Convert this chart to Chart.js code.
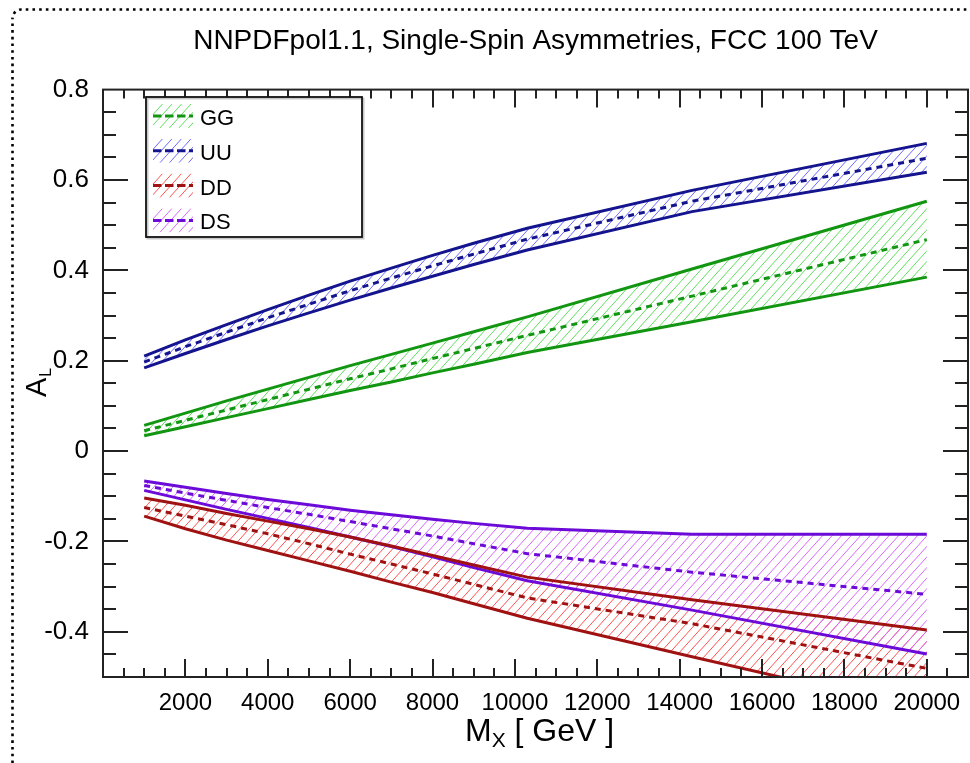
<!DOCTYPE html>
<html>
<head>
<meta charset="utf-8">
<script src="https://cdn.jsdelivr.net/npm/chart.js@4/dist/chart.umd.min.js"></script>
<style>
  html, body { margin: 0; padding: 0; background: #fff; }
  #wrap { width: 970px; height: 763px; position: relative; }
</style>
</head>
<body>
<div id="wrap"><canvas id="c"></canvas></div>
<script>
// invariant mass points (GeV)
const mass = [1000, 2000, 3000, 4000, 5000, 6000, 7000, 8000, 9000, 10300, 14300, 20000];

const ggUpper   = [0.057, 0.084, 0.111, 0.137, 0.163, 0.189, 0.214, 0.239, 0.264, 0.297, 0.403, 0.553];
const ggCentral = [0.045, 0.068, 0.091, 0.114, 0.137, 0.160, 0.182, 0.205, 0.227, 0.256, 0.343, 0.468];
const ggLower   = [0.034, 0.054, 0.074, 0.094, 0.114, 0.134, 0.153, 0.173, 0.192, 0.218, 0.286, 0.385];

const uuUpper   = [0.210, 0.246, 0.280, 0.313, 0.345, 0.376, 0.405, 0.433, 0.460, 0.493, 0.577, 0.681];
const uuCentral = [0.197, 0.231, 0.263, 0.295, 0.325, 0.355, 0.383, 0.410, 0.436, 0.469, 0.553, 0.648];
const uuLower   = [0.184, 0.216, 0.247, 0.277, 0.306, 0.334, 0.361, 0.387, 0.413, 0.445, 0.530, 0.617];

const ddUpper   = [-0.104, -0.120, -0.138, -0.155, -0.172, -0.190, -0.210, -0.231, -0.252, -0.279, -0.329, -0.396];
const ddCentral = [-0.125, -0.144, -0.163, -0.183, -0.205, -0.228, -0.250, -0.272, -0.295, -0.325, -0.382, -0.481];
const ddLower   = [-0.144, -0.172, -0.197, -0.220, -0.243, -0.266, -0.290, -0.313, -0.338, -0.370, -0.455, -0.575];

const dsUpper   = [-0.066, -0.080, -0.094, -0.107, -0.119, -0.131, -0.141, -0.151, -0.160, -0.171, -0.184, -0.184];
const dsCentral = [-0.076, -0.093, -0.109, -0.125, -0.140, -0.156, -0.172, -0.188, -0.205, -0.227, -0.268, -0.317];
const dsLower   = [-0.087, -0.108, -0.129, -0.149, -0.169, -0.190, -0.211, -0.234, -0.258, -0.287, -0.352, -0.449];

const seriesNames = ['GG', 'UU', 'DD', 'DS'];
const xTickValues = [2000, 4000, 6000, 8000, 10000, 12000, 14000, 16000, 18000, 20000];
const xTickLabels = ['2000', '4000', '6000', '8000', '10000', '12000', '14000', '16000', '18000', '20000'];
const yTickValues = [-0.4, -0.2, 0, 0.2, 0.4, 0.6, 0.8];
const yTickLabels = ['-0.4', '-0.2', '0', '0.2', '0.4', '0.6', '0.8'];

const FONT = "'Liberation Sans', Arial, Helvetica, sans-serif";

const styles = [
  { line: '#129612', hatch: '#5ede5e' },
  { line: '#14148e', hatch: '#6a6aff' },
  { line: '#a01212', hatch: '#ff5252' },
  { line: '#6c0ad8', hatch: '#d868ff' }
];
const bands = [
  [ggUpper, ggCentral, ggLower],
  [uuUpper, uuCentral, uuLower],
  [ddUpper, ddCentral, ddLower],
  [dsUpper, dsCentral, dsLower]
];

const pts = arr => arr.map((v, i) => ({ x: mass[i], y: v }));

const datasets = [];
bands.forEach((b, i) => {
  const base = { pointRadius: 0, borderColor: styles[i].line, tension: 0, fill: false, borderWidth: 3 };
  datasets.push(Object.assign({}, base, { label: seriesNames[i] + ' up', data: pts(b[0]) }));
  datasets.push(Object.assign({}, base, { label: seriesNames[i] + ' low', data: pts(b[2]) }));
  datasets.push(Object.assign({}, base, { label: seriesNames[i], data: pts(b[1]), borderDash: [6, 5] }));
});

// diagonal hatch lines inside whatever clip is active
function hatchLines(c, color, left, top, right, bottom) {
  const h = bottom - top, step = 9.5, slant = 0.9;
  c.strokeStyle = color;
  c.lineWidth = 1;
  c.beginPath();
  for (let x0 = left - h * slant; x0 < right; x0 += step) {
    c.moveTo(x0, bottom);
    c.lineTo(x0 + h * slant, top);
  }
  c.stroke();
}

// dotted page frame
const framePlugin = {
  id: 'frame',
  beforeDraw(chart) {
    const c = chart.ctx;
    c.save();
    c.fillStyle = '#fff';
    c.fillRect(0, 0, chart.width, chart.height);
    c.strokeStyle = '#000';
    c.lineWidth = 2.6;
    c.setLineDash([2.6, 4.1]);
    c.beginPath();
    c.moveTo(12.5, 763);
    c.lineTo(12.5, 18);
    c.arcTo(12.5, 9.5, 21.5, 9.5, 9);
    c.lineTo(970, 9.5);
    c.stroke();
    c.restore();
  }
};

// hatched uncertainty bands between upper and lower curves
const bandPlugin = {
  id: 'bands',
  beforeDatasetsDraw(chart) {
    const c = chart.ctx;
    const a = chart.chartArea;
    bands.forEach((b, i) => {
      const up = chart.getDatasetMeta(3 * i).data;
      const lo = chart.getDatasetMeta(3 * i + 1).data;
      c.save();
      c.beginPath();
      c.rect(a.left, a.top, a.right - a.left, a.bottom - a.top);
      c.clip();
      c.beginPath();
      up.forEach((p, k) => k ? c.lineTo(p.x, p.y) : c.moveTo(p.x, p.y));
      for (let k = lo.length - 1; k >= 0; k--) c.lineTo(lo[k].x, lo[k].y);
      c.closePath();
      c.clip();
      hatchLines(c, styles[i].hatch, a.left, a.top, a.right, a.bottom);
      c.restore();
    });
  }
};

// inward ticks on all four sides, frame, legend box, axis titles
const axesPlugin = {
  id: 'axesDeco',
  afterDraw(chart) {
    const c = chart.ctx;
    const a = chart.chartArea;
    const xs = chart.scales.x, ys = chart.scales.y;
    c.save();
    c.strokeStyle = '#222';
    c.lineWidth = 2;
    c.beginPath();
    for (let v = 500; v < 21000; v += 500) {
      const px = Math.round(xs.getPixelForValue(v));
      const len = v % 2000 === 0 ? 18 : 9;
      c.moveTo(px, a.bottom); c.lineTo(px, a.bottom - len);
      c.moveTo(px, a.top); c.lineTo(px, a.top + len);
    }
    for (let k = -9; k <= 15; k++) {
      const py = Math.round(ys.getPixelForValue(k * 0.05));
      const len = k % 4 === 0 ? 25 : 13;
      c.moveTo(a.left, py); c.lineTo(a.left + len, py);
      c.moveTo(a.right, py); c.lineTo(a.right - len, py);
    }
    c.stroke();
    c.strokeRect(a.left, a.top, a.right - a.left, a.bottom - a.top);

    // legend
    const lx = 146, ly = 97, lw = 216, lh = 140;
    c.fillStyle = '#fff';
    c.fillRect(lx, ly, lw, lh);
    c.strokeStyle = 'rgba(0,0,0,0.22)';
    c.lineWidth = 2;
    c.strokeRect(lx + 1.5, ly + 1.5, lw, lh);
    c.strokeStyle = '#111';
    c.lineWidth = 1.8;
    c.strokeRect(lx, ly, lw, lh);
    seriesNames.forEach((name, i) => {
      const cy = 116 + i * 34.8;
      c.save();
      c.beginPath();
      c.rect(153, cy - 12, 40, 24);
      c.clip();
      hatchLines(c, styles[i].hatch, 153, cy - 12, 193, cy + 12);
      c.restore();
      c.strokeStyle = styles[i].line;
      c.lineWidth = 3;
      c.setLineDash([8.5, 3.5]);
      c.beginPath(); c.moveTo(153, cy); c.lineTo(193, cy); c.stroke();
      c.setLineDash([]);
      c.fillStyle = '#000';
      c.font = '22px ' + FONT;
      c.textBaseline = 'alphabetic';
      c.textAlign = 'left';
      c.fillText(name, 200, cy + 9);
    });

    // x axis title: M_X [ GeV ]
    c.fillStyle = '#000';
    c.textBaseline = 'alphabetic';
    c.textAlign = 'left';
    c.font = '32px ' + FONT;
    let x = 465;
    c.fillText('M', x, 741);
    x += c.measureText('M').width;
    c.font = '21px ' + FONT;
    c.fillText('X', x, 747);
    x += c.measureText('X').width;
    c.font = '32px ' + FONT;
    c.fillText(' [ GeV ]', x, 741);

    // y axis title: A_L
    c.translate(46, 397);
    c.rotate(-Math.PI / 2);
    c.font = '29px ' + FONT;
    c.fillText('A', 0, 0);
    const aw = c.measureText('A').width;
    c.font = '16px ' + FONT;
    c.fillText('L', aw + 1, 5);
    c.restore();
  }
};

new Chart(document.getElementById('c'), {
  type: 'line',
  data: { datasets },
  options: {
    responsive: true,
    maintainAspectRatio: false,
    animation: false,
    devicePixelRatio: 1,
    layout: { padding: { left: 0, right: 2, top: 0, bottom: 0 } },
    plugins: {
      legend: { display: false },
      tooltip: { enabled: false },
      title: {
        display: true,
        text: 'NNPDFpol1.1, Single-Spin Asymmetries, FCC 100 TeV',
        fullSize: false,
        color: '#000',
        font: { family: FONT, size: 28, weight: 'normal', lineHeight: 1.2 },
        padding: { top: 24, bottom: 32 }
      }
    },
    scales: {
      x: {
        type: 'linear',
        min: 0,
        max: 21000,
        grid: { display: false },
        border: { display: false },
        afterBuildTicks: s => { s.ticks = xTickValues.map(v => ({ value: v })); },
        afterFit: s => { s.height = 86; },
        ticks: {
          autoSkip: false,
          maxRotation: 0,
          padding: 4,
          color: '#000',
          font: { family: FONT, size: 24 },
          callback: (v, i) => xTickLabels[i]
        }
      },
      y: {
        type: 'linear',
        min: -0.5,
        max: 0.8,
        grid: { display: false },
        border: { display: false },
        afterBuildTicks: s => { s.ticks = yTickValues.map(v => ({ value: v })); },
        afterFit: s => { s.width = 103; },
        ticks: {
          autoSkip: false,
          padding: 6,
          color: '#000',
          font: { family: FONT, size: 26 },
          callback: (v, i) => yTickLabels[i]
        }
      }
    }
  },
  plugins: [framePlugin, bandPlugin, axesPlugin]
});
</script>
</body>
</html>
